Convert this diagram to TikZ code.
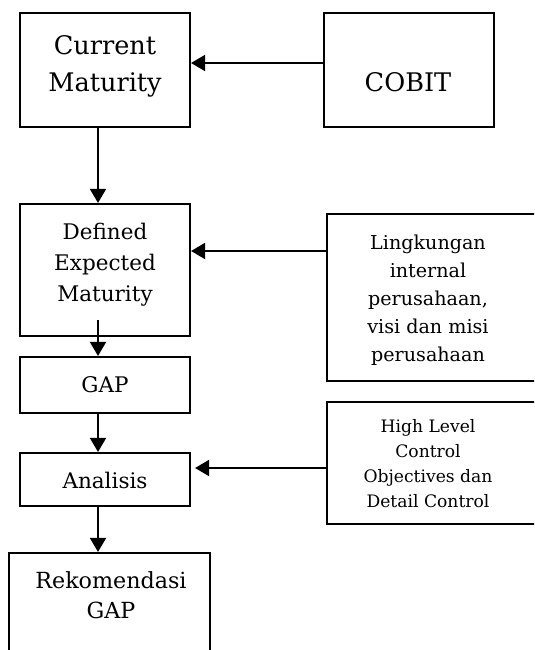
\documentclass[tikz,border=0pt]{standalone}
\usepackage{fontspec}
\setmainfont{DejaVu Serif}
\usetikzlibrary{arrows.meta}

\begin{document}
\begin{tikzpicture}[x=0.025cm, y=-0.025cm,
                    box/.style={draw, line width=1.5pt, inner sep=0pt},
                    arr/.style={line width=1.4pt, -{Triangle[length=0.35cm,width=0.4cm]}},
                    huge/.style={align=center, font=\fontsize{18.2}{26.3}\selectfont},
                    big/.style={align=center, font=\fontsize{15.3}{22}\selectfont},
                    mid/.style={align=center, font=\fontsize{13.6}{20}\selectfont},
                    small/.style={align=center, font=\fontsize{12.2}{17.8}\selectfont}]
                    \useasboundingbox (0,0) rectangle (534,650);
                    \clip (0,0) rectangle (534,650);
                    \node[box, minimum width=4.25cm, minimum height=2.85cm] (cur) at (105,70) {};
                    \node[box, minimum width=4.25cm, minimum height=2.85cm] (cobit) at (409,70) {};
                    \node[box, minimum width=4.25cm, minimum height=3.3cm] (def) at (105,270) {};
                    \node[box, minimum width=4.25cm, minimum height=1.4cm] (gap) at (105,385) {};
                    \node[box, minimum width=4.25cm, minimum height=1.325cm] (ana) at (105,479.5) {};
                    \node[box, minimum width=5.025cm, minimum height=3.425cm] (rek) at (109.5,621.5) {};
                    \node[box, minimum width=5.45cm, minimum height=4.175cm] (ling) at (436,297.5) {};
                    \node[box, minimum width=5.45cm, minimum height=3.05cm] (high) at (436,463) {};
                    \node[huge] (curt) at (105,66) {Current\\Maturity};
                    \node[huge] (cobitt) at (408,82) {COBIT};
                    \node[big] (deft) at (105,264.5) {Defined\\Expected\\Maturity};
                    \node[big] (gapt) at (105,384.5) {GAP};
                    \node[big] (anat) at (105,480) {Analisis};
                    \node[big, font=\fontsize{15.8}{21.3}\selectfont] (rekt) at (111,595.5) {Rekomendasi\\GAP};
                    \node[mid] (lingt) at (428,300) {Lingkungan\\internal\\perusahaan,\\visi dan misi\\perusahaan};
                    \node[small] (hight) at (428,464) {High Level\\Control\\Objectives dan\\Detail Control};
                    \coordinate (defout) at (98,320);
                    \draw[arr] (cobit.west |- 0,63) -- (cur.east |- 0,63);
                    \draw[arr] (98,0 |- cur.south) -- (98,0 |- def.north);
                    \draw[arr] (ling.west |- 0,251) -- (def.east |- 0,251);
                    \draw[arr] (defout) -- (98,0 |- gap.north);
                    \draw[arr] (98,0 |- gap.south) -- (98,0 |- ana.north);
                    \draw[arr, shorten >=0.1cm] (high.west |- 0,468) -- (ana.east |- 0,468);
                    \draw[arr] (98,0 |- ana.south) -- (98,0 |- rek.north);
\end{tikzpicture}
\end{document}
